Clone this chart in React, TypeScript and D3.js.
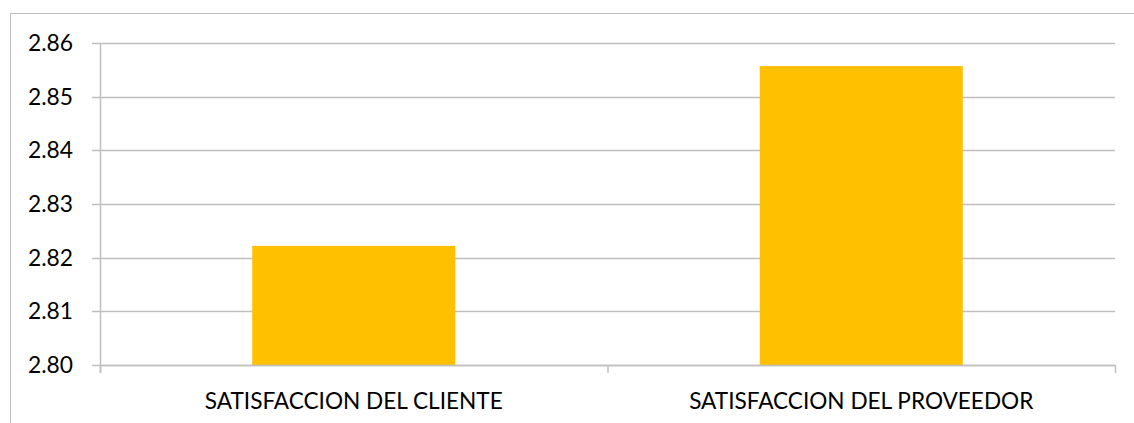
import React from 'react'
import { scaleBand, scaleLinear } from 'd3'

const categories = ['SATISFACCION DEL CLIENTE', 'SATISFACCION DEL PROVEEDOR']
const values = [2.8222, 2.8557]
const yTicks = [2.8, 2.81, 2.82, 2.83, 2.84, 2.85, 2.86]

const W = 1134
const H = 423
const margin = { left: 100, right: 19, top: 43, bottom: 58 }
const grid = '#bfbfbf'
const font = 'Lato, "Open Sans", sans-serif'

const App = () => {
  const x = scaleBand<string>()
    .domain(categories)
    .range([margin.left, W - margin.right])
    .paddingInner(0.6)
    .paddingOuter(0.3)

  const y = scaleLinear()
    .domain([2.8, 2.86])
    .range([H - margin.bottom, margin.top])

  const step = x.step()
  const bottom = y(2.8)
  // category boundaries (ticks between bands)
  const bounds = [0, 1, 2].map(i => margin.left + i * step)

  return (
    <svg width={W} height={H} style={{ position: 'absolute', left: 0, top: 0 }}>
      <rect x={0} y={0} width={W} height={H} fill="#fff" />
      <rect x={10.5} y={13.5} width={W + 20} height={H + 20} fill="none" stroke={grid} strokeWidth={1} />

      {yTicks.map(t => (
        <g key={t}>
          <line x1={margin.left - 8} x2={W - margin.right} y1={Math.round(y(t)) + 0.5} y2={Math.round(y(t)) + 0.5} stroke={grid} strokeWidth={1.5} />
          <text x={73} y={y(t)} dy="0.35em" textAnchor="end" fontFamily={font} fontSize={22.8} fill="#000">
            {t.toFixed(2)}
          </text>
        </g>
      ))}

      {categories.map((c, i) => (
        <rect key={c} x={x(c)} y={y(values[i])} width={x.bandwidth()} height={bottom - y(values[i])} fill="#FFC000" />
      ))}

      <line x1={margin.left + 0.5} x2={margin.left + 0.5} y1={margin.top} y2={bottom + 8} stroke={grid} strokeWidth={1.5} />
      {bounds.map(b => (
        <line key={b} x1={b + 0.5} x2={b + 0.5} y1={bottom} y2={bottom + 8} stroke={grid} strokeWidth={1.5} />
      ))}
      <line x1={margin.left} x2={W - margin.right} y1={Math.round(bottom) + 0.5} y2={Math.round(bottom) + 0.5} stroke={grid} strokeWidth={1.5} />

      {categories.map(c => (
        <text key={c} x={(x(c) || 0) + x.bandwidth() / 2} y={409} textAnchor="middle" fontFamily={font} fontSize={22.6} fill="#000">
          {c}
        </text>
      ))}
    </svg>
  )
}

export default App
